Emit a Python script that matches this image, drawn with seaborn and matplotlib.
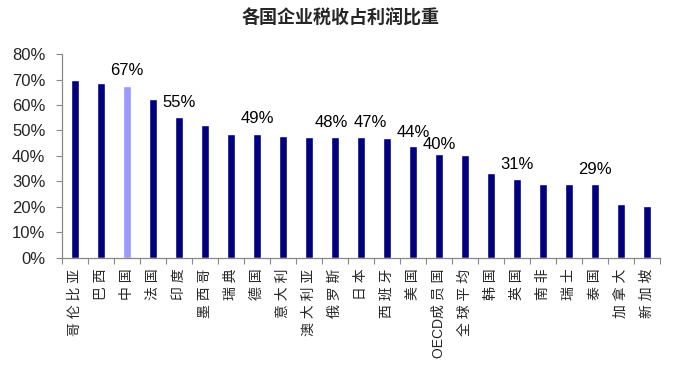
import matplotlib
matplotlib.use("Agg")
import matplotlib.pyplot as plt
import seaborn as sns
import pandas as pd
from matplotlib.ticker import PercentFormatter, FixedLocator

countries = ["哥伦比亚", "巴西", "中国", "法国", "印度", "墨西哥", "瑞典", "德国",
             "意大利", "澳大利亚", "俄罗斯", "日本", "西班牙", "美国", "OECD成员国",
             "全球平均", "韩国", "英国", "南非", "瑞士", "泰国", "加拿大", "新加坡"]
values = [69.8, 68.6, 67.5, 62.3, 55.1, 52.0, 48.8, 48.8, 48.0, 47.3, 47.3, 47.3,
          46.9, 43.7, 40.6, 40.2, 33.1, 30.8, 28.8, 28.8, 28.8, 20.9, 20.2]
label_texts = {"中国": "67%", "印度": "55%", "德国": "49%", "俄罗斯": "48%",
               "日本": "47%", "美国": "44%", "OECD成员国": "40%", "英国": "31%",
               "泰国": "29%"}
highlight = "中国"

sns.set_theme(style="white")
plt.rcParams["font.family"] = ["Liberation Sans", "Noto Sans CJK SC", "DejaVu Sans"]

df = pd.DataFrame({"country": countries, "value": values})
colors = ["#9999FF" if c == highlight else "#000080" for c in countries]


def spaced(name):
    # put a small gap between CJK characters, as in the reference
    out = ""
    for i, ch in enumerate(name):
        if i > 0 and ord(ch) > 0x2E80 and ord(name[i - 1]) > 0x2E80:
            out += " "
        out += ch
    return out


fig = plt.figure(figsize=(6.74, 3.84), dpi=100)
ax = fig.add_axes([0.092, 0.329, 0.887, 0.530])
sns.barplot(data=df, x="country", y="value", hue="country", palette=colors,
            legend=False, width=0.29, saturation=1, ax=ax)

ax.set_xlim(-0.5, len(countries) - 0.5)
ax.set_ylim(0, 80)
ax.set_yticks(range(0, 81, 10))
ax.yaxis.set_major_formatter(PercentFormatter(decimals=0))
ax.set_xlabel("")
ax.set_ylabel("")

ax.set_xticks(range(len(countries)))
ax.set_xticklabels([spaced(c) for c in countries], rotation=90, fontsize=10,
                   va="top")
ax.xaxis.set_minor_locator(FixedLocator([i - 0.5 for i in range(len(countries) + 1)]))
ax.tick_params(axis="x", which="major", length=0, pad=8)
ax.tick_params(axis="x", which="minor", length=4, width=0.8, color="#888888",
               direction="out", bottom=True)
ax.tick_params(axis="y", which="major", length=4, width=0.8, color="#888888",
               direction="out", left=True, labelsize=12, pad=8)

for side in ["top", "right"]:
    ax.spines[side].set_visible(False)
for side in ["left", "bottom"]:
    ax.spines[side].set_color("#888888")
    ax.spines[side].set_linewidth(0.9)

x_shift = {"俄罗斯": -2.5, "日本": 6.5}
y_shift = {"OECD成员国": 1.8, "美国": 5.0}
for i, c in enumerate(countries):
    if c in label_texts:
        ax.annotate(label_texts[c], (i, values[i]),
                    xytext=(x_shift.get(c, 0), y_shift.get(c, 5.5)),
                    textcoords="offset points", ha="center", va="bottom",
                    fontsize=12, color="black")

fig.text(0.505, 0.953, "各国企业税收占利润比重", ha="center", va="center",
         fontsize=13, fontweight="bold", family=["Noto Sans CJK SC"])

fig.savefig("out.png", dpi=100, facecolor="white")
